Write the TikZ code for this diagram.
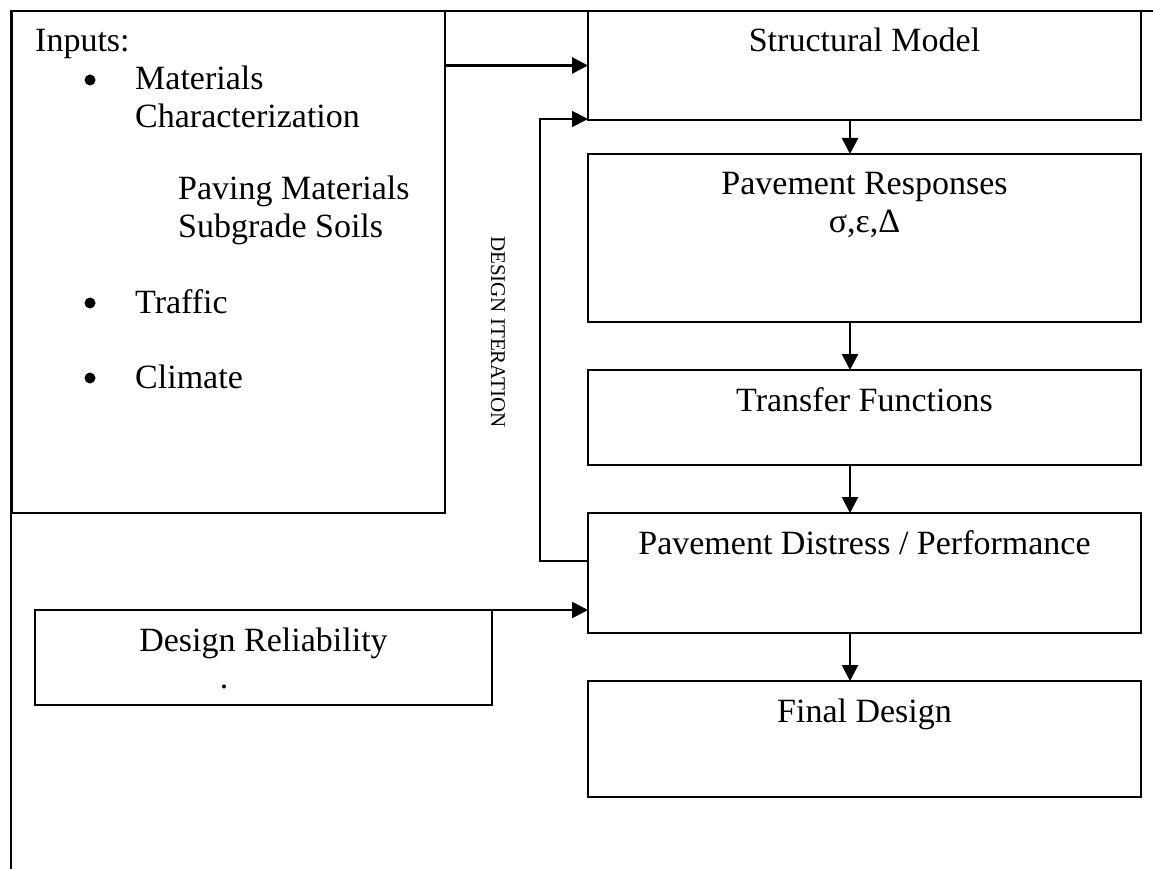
\documentclass[tikz,border=0pt]{standalone}
\usepackage{fontspec}
\setmainfont{Liberation Serif}
\usetikzlibrary{arrows.meta}
\begin{document}
\begin{tikzpicture}[x=1pt,y=-1pt,
  frameline/.style={line width=2.6pt},
  box/.style={draw, line width=2.9pt, anchor=north west, inner sep=0pt, outer sep=0pt},
  txt/.style={font=\fontsize{34}{40}\selectfont, inner sep=0pt, anchor=base},
  txtl/.style={txt, anchor=base west},
  flow/.style={line width=2.7pt, -{Triangle[length=16pt,width=16pt]}},
  loopline/.style={line width=1.8pt, -{Triangle[length=16pt,width=16pt]}},
  bullet/.style={circle, fill, inner sep=0pt, minimum size=11pt}]
\useasboundingbox (0,0) rectangle (1153,869);

% outer frame: top and left rules
\coordinate (ftop) at (1153,11);
\coordinate (fcorner) at (11,11);
\coordinate (fbot) at (11,869);
\draw[frameline] (ftop) -- (fcorner) -- (fbot);

% boxes
\node[box, minimum width=433pt, minimum height=502pt] (inputs) at (12,11) {};
\node[box, minimum width=553pt, minimum height=109pt] (sm) at (588,11) {};
\node[box, minimum width=553pt, minimum height=168pt] (pr) at (588,154) {};
\node[box, minimum width=553pt, minimum height=95pt]  (tf) at (588,370) {};
\node[box, minimum width=553pt, minimum height=120pt] (pd) at (588,513) {};
\node[box, minimum width=553pt, minimum height=116pt] (fd) at (588,681) {};
\node[box, minimum width=457pt, minimum height=95pt]  (dr) at (35,610) {};

% inputs list
\node[txtl] (tin) at (35,52) {Inputs:};
\node[bullet] (b1) at (90,80) {};
\node[txtl] (tmat) at (135,90) {Materials};
\node[txtl] (tchar) at (135,128) {Characterization};
\node[txtl] (tpav) at (178,200) {Paving Materials};
\node[txtl] (tsub) at (178,237) {Subgrade Soils};
\node[bullet] (b2) at (90,303) {};
\node[txtl] (ttra) at (135,313) {Traffic};
\node[bullet] (b3) at (90,378) {};
\node[txtl] (tcli) at (135,388) {Climate};

% box captions
\node[txt] (tsm) at (864.5,52) {Structural Model};
\node[txt] (tpr) at (864.5,195) {Pavement Responses};
\node[txt] (tgr) at (864.5,233) {σ,ε,Δ};
\node[txt] (ttf) at (864.5,411) {Transfer Functions};
\node[txt] (tpd) at (864.5,554) {Pavement Distress / Performance};
\node[txt] (tfd) at (864.5,722) {Final Design};
\node[txt] (tdr) at (263.5,651) {Design Reliability};
\node[txt] (tdot) at (224,688) {.};

\node[font=\fontsize{21}{24}\selectfont, inner sep=0pt, rotate=-90] (iter) at (498,332) {DESIGN ITERATION};

% connectors
\coordinate (cx) at (850,0);
\draw[flow] (sm.west -| inputs.east) -- (sm.west);
\draw[flow] (sm.south -| cx) -- (pr.north -| cx);
\draw[flow] (pr.south -| cx) -- (tf.north -| cx);
\draw[flow] (tf.south -| cx) -- (pd.north -| cx);
\draw[flow] (pd.south -| cx) -- (fd.north -| cx);
\draw[flow] (dr.north east) -- (dr.north east -| pd.west);

% design iteration loop
\coordinate (fb) at (540,561);
\coordinate (fbtop) at (540,119);
\draw[loopline] (pd.west |- fb) -- (fb) -- (fbtop) -- (fbtop -| sm.west);
\end{tikzpicture}
\end{document}
